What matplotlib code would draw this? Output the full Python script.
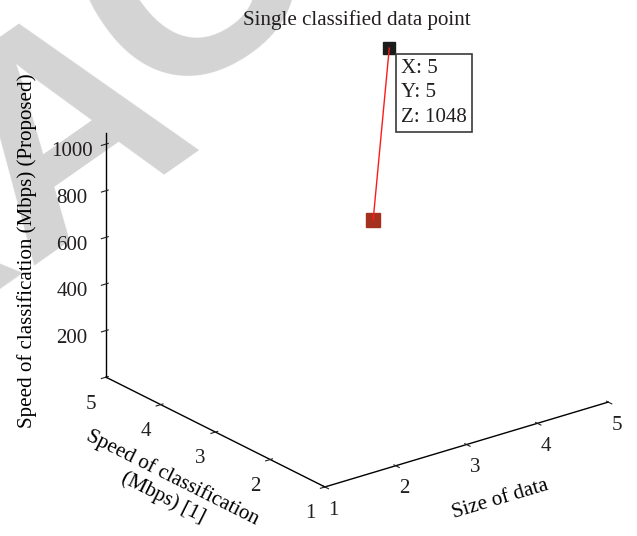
import matplotlib
matplotlib.use('Agg')
import matplotlib.pyplot as plt
from mpl_toolkits.mplot3d import proj3d
import numpy as np

# ---- data ----
size_of_data = [4, 5]            # X
speed_ref = [4, 5]               # Y  (Speed of classification [1])
speed_proposed = [520, 1048]     # Z  (Proposed)
tip_index = 1
x_ticks = [1, 2, 3, 4, 5]
y_ticks = [1, 2, 3, 4, 5]
z_ticks = [200, 400, 600, 800, 1000]
x_range = (1, 5)
y_range = (1, 5)
z_range = (0, 1048)

title = 'Single classified data point'
xlabel = 'Size of data'
ylabel = 'Speed of classification\n(Mbps) [1]'
zlabel = 'Speed of classification (Mbps) (Proposed)'
watermark_parts = ['RETRA', 'CTED']

# ---- style ----
W, H, DPI = 637, 536, 100
TEXT = '#231f20'
FS = 15.1
plt.rcParams['font.family'] = ['Liberation Serif', 'DejaVu Serif']
plt.rcParams['font.size'] = FS
plt.rcParams['text.color'] = TEXT

fig = plt.figure(figsize=(W / DPI, H / DPI), dpi=DPI)
fig.patch.set_facecolor('white')

# ---- watermark (large grey letters in the background) ----
wm_fs = 216
wm_ang = 35
wm_color = '#d4d4d4'
# (anchor in pixels from top-left, horizontal alignment)
wm_layout = [((203, 133), 'right'), ((152, 111), 'left')]
for s, ((ax_px, ay_px), ha) in zip(watermark_parts, wm_layout):
    fig.text(ax_px / W, (H - ay_px) / H, s, fontsize=wm_fs, fontweight='bold',
             family='Liberation Sans', color=wm_color, rotation=wm_ang,
             rotation_mode='anchor', ha=ha, va='baseline', zorder=-5)

# ---- 3D axes ----
side = 554.8
cx, cy = 349.6, H - 275.0
ax = fig.add_axes([(cx - side / 2) / W, (cy - side / 2) / H, side / W, side / H],
                  projection='3d', proj_type='ortho')
ax.patch.set_visible(False)
ax.view_init(elev=22.8, azim=-127.7)
ax.set_box_aspect((1, 1, 0.74))
ax.set_xlim(*x_range)
ax.set_ylim(*y_range)
ax.set_zlim(*z_range)
ax.set_xticks(x_ticks)
ax.set_yticks(y_ticks)
ax.set_zticks(z_ticks)
ax.grid(False)
for a in (ax.xaxis, ax.yaxis, ax.zaxis):
    a.set_pane_color((1, 1, 1, 0))
    a.pane.set_edgecolor((1, 1, 1, 0))
    a.line.set_color('black')
    a.line.set_linewidth(1.0)
ax.tick_params(colors=TEXT, labelsize=FS)
ax.xaxis.set_tick_params(pad=0)
ax.yaxis.set_tick_params(pad=3)
ax.zaxis.set_tick_params(pad=6)

ax.computed_zorder = False
ax.plot([size_of_data[0]], [speed_ref[0]], [speed_proposed[0]], linestyle='none',
        marker='s', markersize=10, color='#a5301f', zorder=2)
ax.plot([size_of_data[tip_index]], [speed_ref[tip_index]], [speed_proposed[tip_index]],
        linestyle='none', marker='s', markersize=8, color='#1c1c1c', zorder=2)
ax.plot(size_of_data, speed_ref, speed_proposed, color='#ff1a1a', linewidth=1.0, zorder=3)

ax.set_xlabel(xlabel, labelpad=11)
ax.set_ylabel(ylabel, labelpad=14)
ax.set_zlabel(zlabel, labelpad=11.5)

fig.text(357 / W, 1 - 20 / H, title, ha='center', va='center', fontsize=FS)

# ---- data tip box anchored at the tip point ----
fig.canvas.draw()
M = ax.get_proj()
tx, ty, _ = proj3d.proj_transform(size_of_data[tip_index], speed_ref[tip_index],
                                  speed_proposed[tip_index], M)
tip_text = (f'X: {size_of_data[tip_index]}\nY: {speed_ref[tip_index]}\n'
            f'Z: {speed_proposed[tip_index]}')
ax.annotate(tip_text, xy=(tx, ty), xycoords='data', xytext=(12, -11),
            textcoords='offset pixels', ha='left', va='top', fontsize=FS,
            linespacing=1.38,
            bbox=dict(boxstyle='square,pad=0.25', fc='white', ec='#3a3a3a', lw=1.2))

fig.savefig('out.png', dpi=DPI)
